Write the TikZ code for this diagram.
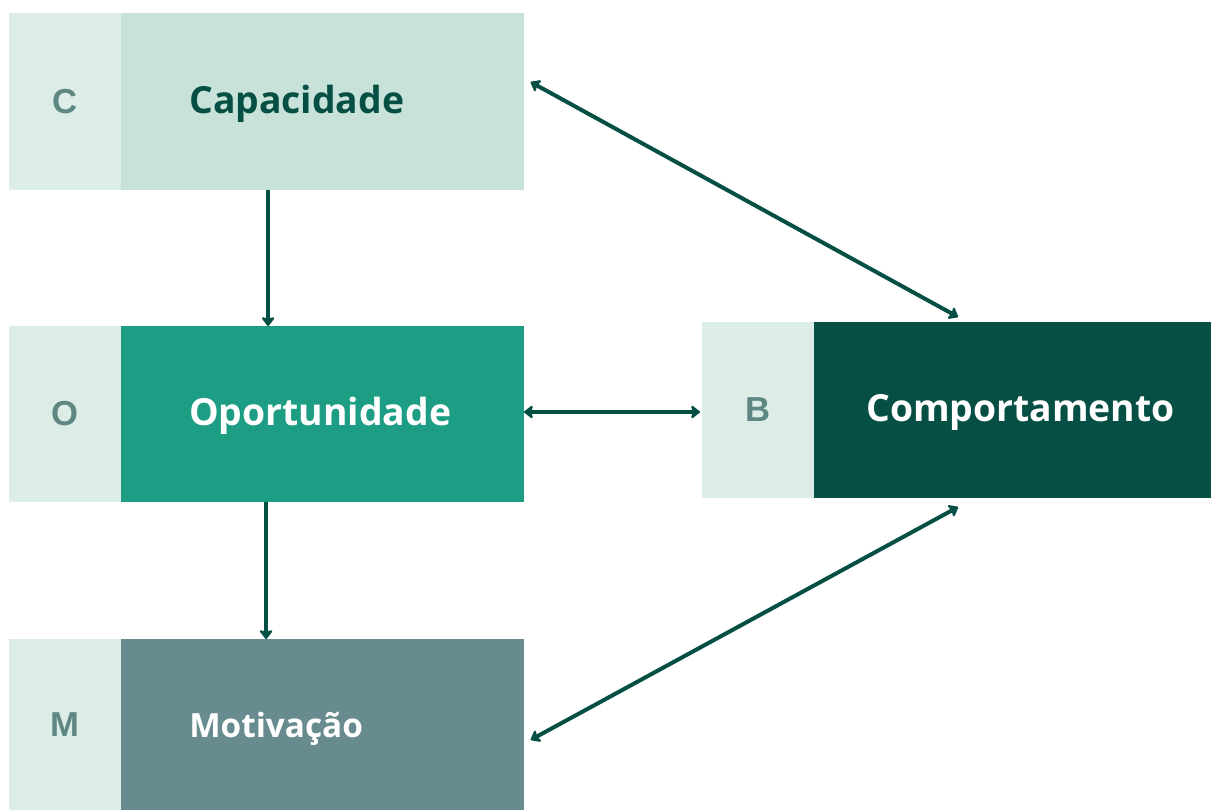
\documentclass[tikz,border=0pt]{standalone}
\usepackage{fontspec}
\setmainfont{Open Sans}
\newfontfamily\letterfont{Liberation Sans}
\usepackage{tikz}
\usetikzlibrary{arrows.meta}
\usetikzlibrary{calc}
\usetikzlibrary{positioning}
\usepackage{xcolor}
\definecolor{mypale}{HTML}{DCECE7}
\definecolor{mymint}{HTML}{C8E2DA}
\definecolor{myteal}{HTML}{1D9E84}
\definecolor{myslate}{HTML}{678B8F}
\definecolor{mydark}{HTML}{064F44}
\definecolor{myletter}{HTML}{5E8784}
\tikzset{node distance=0pt, every text node part/.style={align=left}}
\tikzstyle{letterbox} = [fill=mypale, inner sep=0pt, outer sep=0pt, minimum width=84pt, minimum height=132pt, text=myletter, font={\letterfont\fontsize{26pt}{30pt}\selectfont\bfseries}]
\tikzstyle{mainbox} = [inner sep=0pt, outer sep=0pt, minimum height=132pt]
\tikzstyle{lbl} = [anchor=west, inner sep=0pt, font={\fontsize{28pt}{32pt}\selectfont\bfseries}]
\tikzstyle{ln} = [draw=mydark, line width=3pt, arrows={Stealth[length=7.5pt, width=11.5pt, inset=1.5pt, round]-Stealth[length=7.5pt, width=11.5pt, inset=1.5pt, round]}]
\tikzstyle{lnone} = [draw=mydark, line width=3pt, arrows={-Stealth[length=7.5pt, width=11.5pt, inset=1.5pt, round]}]

\begin{document}
\begin{tikzpicture}[x=0.75pt, y=-0.75pt]
  \useasboundingbox (0,0) rectangle (1211,810);
  % left column
  \node[letterbox, minimum height=132.75pt] (c) at (65,101.5) {C};
  \node[mainbox, fill=mymint, minimum width=302.25pt, minimum height=132.75pt, right=of c] (cap) {};
  \node[lbl, text=mydark] (capt) at ([xshift=51pt, yshift=-1.5pt]cap.west) {Capacidade};
  \node[letterbox] (o) at (65,414) {O};
  \node[mainbox, fill=myteal, minimum width=302.25pt, right=of o] (opp) {};
  \node[lbl, text=white] (oppt) at ([xshift=51pt, yshift=-1.5pt]opp.west) {Oportunidade};
  \node[letterbox, minimum height=128.25pt] (m) at (65,724.5) {M};
  \node[mainbox, fill=myslate, minimum width=302.25pt, minimum height=128.25pt, right=of m] (mot) {};
  \node[lbl, text=white, font={\fontsize{25pt}{30pt}\selectfont\bfseries}] (mott) at ([xshift=51pt, yshift=-3pt]mot.west) {Motivação};
  % right
  \node[letterbox] (b) at (758,410) {B};
  \node[mainbox, fill=mydark, minimum width=297.75pt, right=of b] (comp) {};
  \node[lbl, text=white] (compt) at ([xshift=39pt, yshift=-1.5pt]comp.west) {Comportamento};
  % connectors
  \draw[lnone] ($(cap.south west)!0.365!(cap.south east)$) -- ($(opp.north west)!0.365!(opp.north east)$);
  \draw[lnone] ($(opp.south west)!0.36!(opp.south east)$) -- ($(mot.north west)!0.36!(mot.north east)$);
  \draw[ln] ([yshift=1.5pt]opp.east) -- ([xshift=-1.5pt,yshift=-1.5pt]b.west);
  \coordinate (capr) at ([xshift=5pt]$(cap.north east)!0.39!(cap.south east)$);
  \coordinate (motr) at ([xshift=5pt]$(mot.north east)!0.59!(mot.south east)$);
  \coordinate (comptop) at ([yshift=3.75pt]$(comp.north west)!0.363!(comp.north east)$);
  \coordinate (compbot) at ([yshift=-6.75pt]$(comp.south west)!0.363!(comp.south east)$);
  \draw[ln] (capr) -- (comptop);
  \draw[ln] (motr) -- (compbot);
\end{tikzpicture}
\end{document}
